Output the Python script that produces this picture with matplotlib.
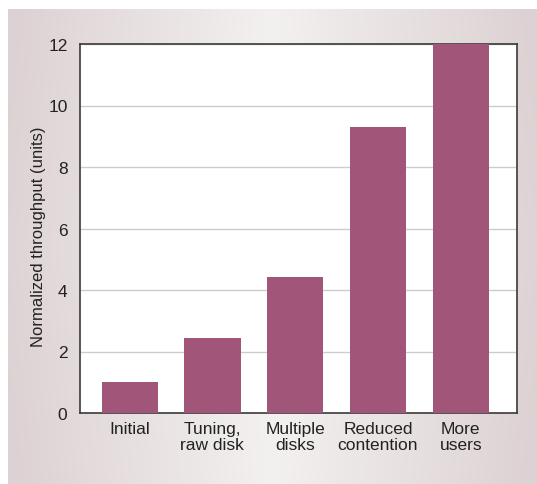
import numpy as np
import matplotlib
matplotlib.use('Agg')
from matplotlib import pyplot as plt

categories = ["Initial", "Tuning,\nraw disk", "Multiple\ndisks", "Reduced\ncontention", "More\nusers"]
throughput = [1.0, 2.45, 4.42, 9.3, 12.0]
y_ticks = [0, 2, 4, 6, 8, 10, 12]

plt.rcParams['font.family'] = ['Liberation Sans Narrow', 'Liberation Sans', 'DejaVu Sans']

fig = plt.figure(figsize=(5.37, 4.85), dpi=100)

# gradient background panel
bg = fig.add_axes([8/537, 0, 1 - 8/537, 1 - 10/485], zorder=-10)
xs = np.linspace(-1, 1, 300)
ys = np.linspace(-1, 1, 200)
X, Y = np.meshgrid(xs, ys)
t = np.clip(np.abs(X) * 0.95 + np.abs(Y) * 0.1, 0, 1)
light = np.array([0.960, 0.955, 0.950])
dark = np.array([0.870, 0.825, 0.830])
img = light[None, None, :] * (1 - t[..., None]) + dark[None, None, :] * t[..., None]
bg.imshow(img, aspect='auto', extent=(0, 1, 0, 1))
bg.axis('off')

ax = fig.add_axes([80/537, 1 - 414/485, (517 - 80)/537, (414 - 45)/485])
ax.set_facecolor('white')
x = np.arange(len(categories))
ax.bar(x, throughput, width=0.68, color='#a15579', zorder=3)
ax.set_xlim(-0.6, 4.68)
ax.set_ylim(0, 12)
ax.set_yticks(y_ticks)
ax.set_xticks(x)
ax.set_xticklabels(categories, fontsize=12.5, color='#222222', linespacing=1.05)
ax.tick_params(axis='both', length=0, labelsize=12.5, colors='#222222')
ax.tick_params(axis='y', pad=9)
ax.tick_params(axis='x', pad=6)
ax.yaxis.grid(True, color='#cccccc', linewidth=1.0, zorder=0)
for s in ax.spines.values():
    s.set_color('#3a3a3a')
    s.set_linewidth(1.2)
ax.set_ylabel("Normalized throughput (units)", fontsize=12, color='#222222')
ax.yaxis.set_label_coords(-0.077, 0.48)

plt.savefig("out.png", dpi=100)
plt.close()
